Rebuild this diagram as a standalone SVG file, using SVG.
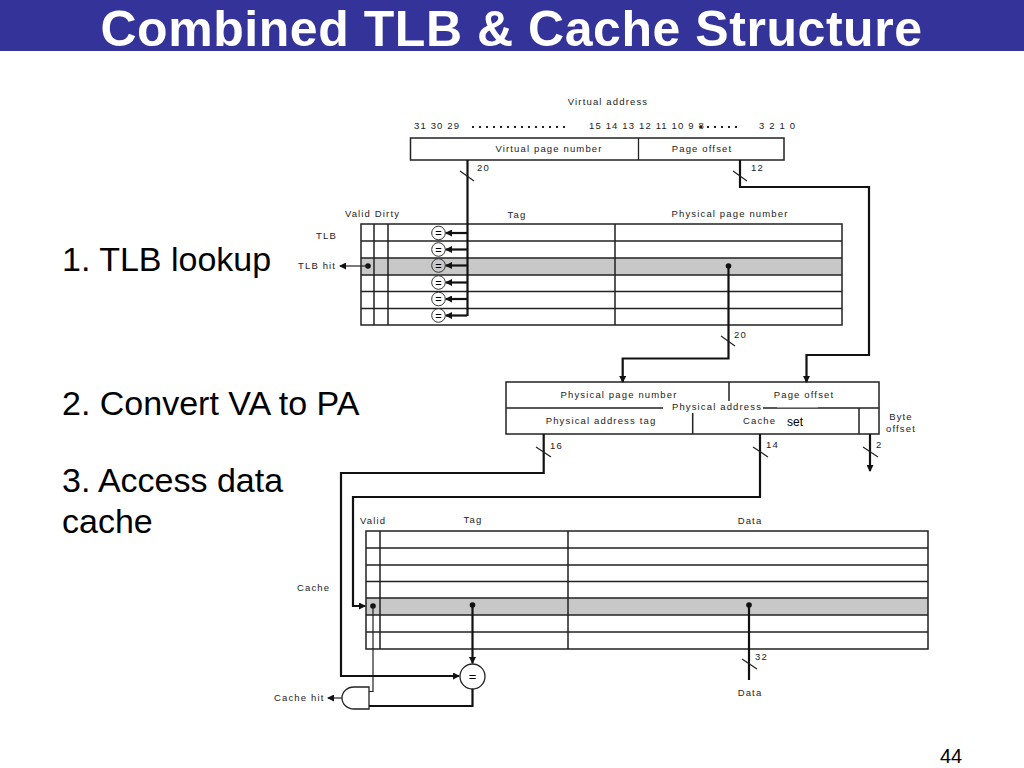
<svg xmlns="http://www.w3.org/2000/svg" width="1024" height="768" viewBox="0 0 1024 768">
<style>
text{font-family:"Liberation Sans",Arial,sans-serif;fill:#000}
.l{font-size:9.5px;letter-spacing:1.15px;fill:#222}
.m{text-anchor:middle}
.big{font-size:34px}
.box{fill:#fff;stroke:#222;stroke-width:1.5}
.t{fill:none;stroke:#222;stroke-width:1.3}
.w{fill:none;stroke:#111;stroke-width:2.2}
.n{fill:none;stroke:#222;stroke-width:1.2}
.eq{fill:#fff;stroke:#333;stroke-width:1}
.hl{fill:#c8c8c8}
</style>
<defs>
<marker id="a" markerWidth="7" markerHeight="7" refX="6" refY="3.500" orient="auto" markerUnits="userSpaceOnUse"><path d="M0 0L7 3.500L0 7z" fill="#111"/></marker>
</defs>
<g id="title"><rect x="0" y="0" width="1024" height="51" fill="#333399"/>
<text x="511.500" y="45.500" class="m" style="font-size:50px;letter-spacing:.55px;font-weight:bold;fill:#fff">Combined TLB &amp; Cache Structure</text></g>
<g id="steps">
<text x="62" y="271" class="big">1. TLB lookup</text>
<text x="62" y="415" class="big">2. Convert VA to PA</text>
<text x="62" y="492" class="big">3. Access data</text>
<text x="62" y="533" class="big">cache</text>
<text x="940" y="763" style="font-size:20px">44</text>
</g>
<g id="virtual-address">
<text x="608" y="105" class="l m">Virtual address</text>
<text x="414" y="128.500" class="l">31 30 29</text>
<text x="589" y="128.500" class="l">15 14 13 12 11 10 9 8</text>
<text x="759" y="128.500" class="l">3 2 1 0</text>
<path d="M472 127H565M700 127H740" fill="none" stroke="#222" stroke-width="2" stroke-dasharray="2 5"/>
<rect x="410.500" y="138" width="373.500" height="22" class="box"/>
<path d="M638.500 138V160" class="t"/>
<text x="549" y="151.500" class="l m">Virtual page number</text>
<text x="702" y="151.500" class="l m">Page offset</text>
</g>
<g id="tlb">
<rect x="361" y="224" width="481" height="101" fill="#fff"/>
<rect x="361" y="258" width="481" height="17" class="hl"/>
<path d="M361 224H842V325H361ZM361 241H842M361 258H842M361 275H842M361 291.500H842M361 308.500H842M374 224V325M388 224V325M615 224V325" class="box" style="fill:none"/>
<text x="372.500" y="217" class="l m">Valid Dirty</text>
<text x="517" y="218" class="l m">Tag</text>
<text x="730" y="217" class="l m">Physical page number</text>
<text x="316" y="239" class="l">TLB</text>
<text x="298" y="269" class="l">TLB hit</text>
<circle cx="368" cy="266" r="2.800" fill="#111"/>
<path d="M368 266H340" class="n" marker-end="url(#a)"/>
<circle cx="438.500" cy="233" r="6.800" class="eq"/><text x="438.500" y="237" class="m" style="font-size:11px">=</text>
<circle cx="438.500" cy="249.500" r="6.800" class="eq"/><text x="438.500" y="253.500" class="m" style="font-size:11px">=</text>
<circle cx="438.500" cy="265.500" r="6.800" class="eq" style="fill:#c8c8c8"/><text x="438.500" y="269.500" class="m" style="font-size:11px">=</text>
<circle cx="438.500" cy="282.500" r="6.800" class="eq"/><text x="438.500" y="286.500" class="m" style="font-size:11px">=</text>
<circle cx="438.500" cy="299" r="6.800" class="eq"/><text x="438.500" y="303" class="m" style="font-size:11px">=</text>
<circle cx="438.500" cy="315.500" r="6.800" class="eq"/><text x="438.500" y="319.500" class="m" style="font-size:11px">=</text>
</g>
<g id="physical-address">
<rect x="506" y="382" width="373" height="52" class="box"/>
<path d="M506 408H879M729 382V408M692.700 408V434M859 408V434" class="box" style="fill:none"/>
<rect x="663" y="401" width="100" height="12" fill="#fff"/>
<rect x="777" y="409" width="41" height="24" fill="#fff"/>
<path d="M777 407.500H818" stroke="#999" stroke-width="1"/>
<text x="619" y="398" class="l m">Physical page number</text>
<text x="804" y="398" class="l m">Page offset</text>
<text x="717" y="410" class="l m">Physical address</text>
<text x="601" y="424" class="l m">Physical address tag</text>
<text x="743" y="424" class="l">Cache</text>
<text x="787" y="426" style="font-size:12px">set</text>
<text x="901" y="420" class="l m">Byte</text>
<text x="901" y="432" class="l m">offset</text>
</g>
<g id="cache">
<rect x="366" y="531" width="562" height="118" fill="#fff"/>
<rect x="366" y="598" width="562" height="17" class="hl"/>
<path d="M366 531H928V649H366ZM366 548H928M366 565H928M366 581.500H928M366 598H928M366 615H928M366 632H928M380 531V649M568 531V649" class="box" style="fill:none"/>
<text x="360" y="524" class="l">Valid</text>
<text x="473" y="523" class="l m">Tag</text>
<text x="750" y="524" class="l m">Data</text>
<text x="297" y="591" class="l">Cache</text>
<text x="750" y="696" class="l m">Data</text>
<text x="274" y="701" class="l">Cache hit</text>
<circle cx="373" cy="606" r="2.800" fill="#111"/>
<circle cx="472.500" cy="605" r="2.800" fill="#111"/>
<circle cx="749" cy="605" r="2.800" fill="#111"/>
<circle cx="472.500" cy="676.500" r="12.500" fill="#fff" stroke="#222" stroke-width="1.300"/>
<text x="472.500" y="681" class="m" style="font-size:13px">=</text>
<path id="and-gate" d="M369 687H354C347 687 342 692 342 698C342 704 347 709 354 709H369Z" fill="#fff" stroke="#222" stroke-width="1.300"/>
</g>
<g id="connectors">
<path d="M467.500 160V316" class="w"/>
<path d="M467 233H446" class="w" marker-end="url(#a)"/><path d="M467 249.500H446" class="w" marker-end="url(#a)"/><path d="M467 265.500H446" class="w" marker-end="url(#a)"/><path d="M467 282.500H446" class="w" marker-end="url(#a)"/><path d="M467 299H446" class="w" marker-end="url(#a)"/><path d="M467 315.500H446" class="w" marker-end="url(#a)"/>
<path d="M740 160V187H869V355H806.500V382" class="w" marker-end="url(#a)"/>
<circle cx="728.500" cy="266" r="2.800" fill="#111"/>
<path d="M728.500 266V358.500H622.700V382" class="w" marker-end="url(#a)"/>
<path d="M543.700 434V473H341V676H459" class="w" marker-end="url(#a)"/>
<path d="M760 434V497H353V606H365" class="w" marker-end="url(#a)"/>
<path d="M870 434V471" class="w" marker-end="url(#a)"/>
<path d="M472.500 605V663" class="w" marker-end="url(#a)"/>
<path d="M749 605V680" class="w"/>
<path d="M472.500 689V706H369" class="w"/>
<path d="M373 606V691.500H369" class="n"/>
<path d="M342 698H328" class="n" marker-end="url(#a)"/>
<path d="M460 171L474 181M733 171L747 181M721 336L735 346M536 447L551 457M753 447L768 457M863 447L878 457M742 659L757 669" class="n"/>
<text x="477" y="171" class="l">20</text>
<text x="751" y="171" class="l">12</text>
<text x="734" y="338" class="l">20</text>
<text x="550" y="449" class="l">16</text>
<text x="766" y="448" class="l">14</text>
<text x="876" y="448" class="l">2</text>
<text x="755" y="660" class="l">32</text>
</g>
</svg>
